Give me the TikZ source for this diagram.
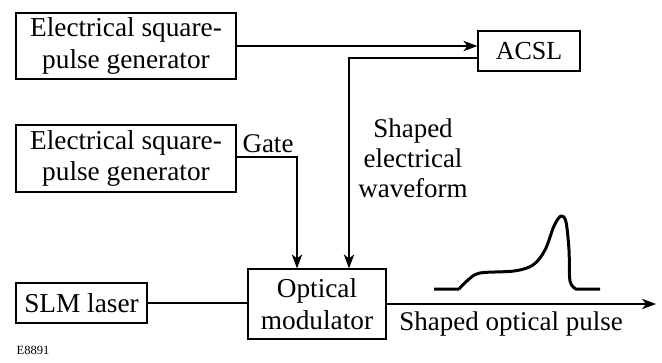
\documentclass[tikz,border=0pt]{standalone}
\usepackage{fontspec}
\setmainfont{Liberation Serif}
\usetikzlibrary{arrows.meta,calc}
\begin{document}
\begin{tikzpicture}[x=1pt,y=-1pt,
  box/.style={draw,line width=1.25pt,rectangle,inner sep=0pt,align=center,font=\fontsize{27.3}{31.5}\selectfont},
  lbl/.style={inner sep=0pt,align=center,font=\fontsize{27}{30}\selectfont},
  conn/.style={line width=1.25pt},
  arr/.style={line width=1.25pt,-{Stealth[length=14pt,width=10.5pt,inset=4pt]}}]
\useasboundingbox (0,0) rectangle (662,362);
\node[box,minimum width=220pt,minimum height=66pt] (gen1) at (126,46) {Electrical square-\\pulse generator};
\node[box,minimum width=220pt,minimum height=67pt] (gen2) at (126,158.5) {Electrical square-\\pulse generator};
\node[box,minimum width=102pt,minimum height=40pt,font=\fontsize{26}{30}\selectfont] (acsl) at (529,51) {ACSL};
\node[box,minimum width=131pt,minimum height=40pt] (slm) at (81.5,303) {SLM laser};
\node[box,minimum width=138pt,minimum height=70pt] (mod) at (317,304) {Optical\\modulator};
\coordinate (outend) at (656,304);
\coordinate (gatex) at (297,0);
\coordinate (wavex) at (349,0);
\draw[arr] (gen1.east) -- (gen1.east -| acsl.west);
\draw[arr] ([yshift=-7pt]acsl.west) -| (mod.north -| wavex);
\draw[arr] ([yshift=1.5pt]gen2.east) -| (mod.north -| gatex);
\draw[conn] (slm.east) -- (slm.east -| mod.west);
\draw[arr] (mod.east) -- (outend);
\node[lbl] (gate) at (268,144) {Gate};
\node[lbl] (wave) at (413,158) {Shaped\\electrical\\waveform};
\node[lbl,anchor=north] (opt) at (511,312) {Shaped optical pulse};
\node[inner sep=0pt,font=\fontsize{12.5}{14}\selectfont] (code) at (33,350) {E8891};
\draw[line width=3pt,line join=round] (434,289) -- (459,289)
  plot[smooth,tension=0.55] coordinates {(459,289) (468,280) (480,273) (514,271) (533,265) (545,250) (554,226) (561,216) (566,222) (569,250) (570,281) (576,289)}
  -- (600,289);
\end{tikzpicture}
\end{document}
